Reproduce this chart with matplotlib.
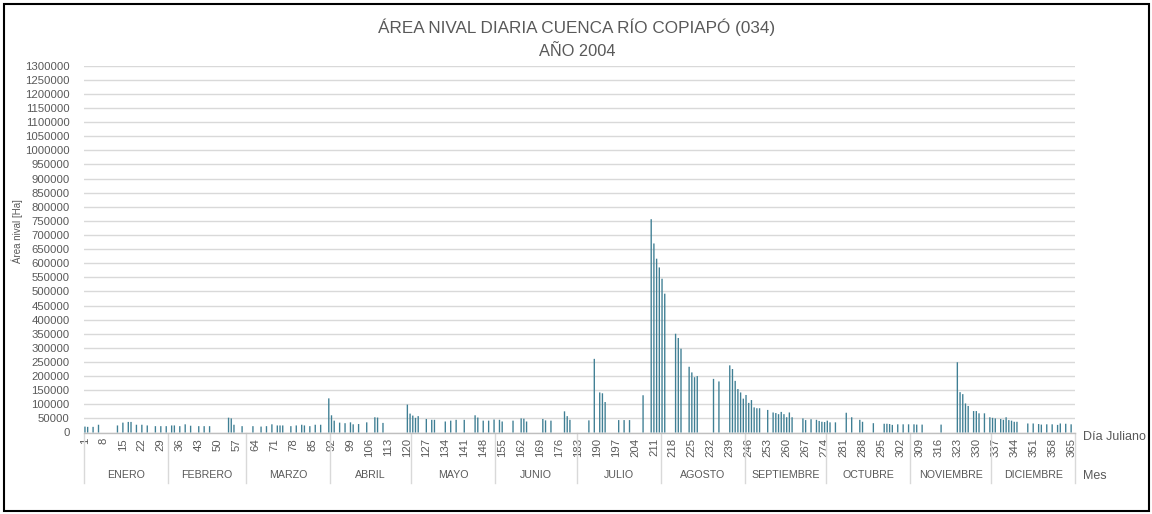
import matplotlib
matplotlib.use("Agg")
import matplotlib.pyplot as plt
from matplotlib.patches import Rectangle
import numpy as np

# Daily snow-covered area, Copiapó basin, 2004 (days with no record are left empty)
obs_days = [
    1, 2, 4, 6, 13, 15, 17, 18, 20, 22, 24, 27, 29, 31, 33, 34, 36, 38, 40, 43, 45, 47,
    54, 55, 56, 59, 63, 66, 68, 70, 72, 73, 74, 77, 79, 81, 82, 84, 86, 88,
    91, 92, 93, 95, 97, 99, 100, 102, 105, 108, 109, 111,
    120, 121, 122, 123, 124, 127, 129, 130, 134, 136, 138, 141, 145, 146, 148, 150, 152,
    154, 155, 159, 162, 163, 164, 170, 171, 173, 178, 179, 180,
    187, 189, 191, 192, 193, 198, 200, 202, 207, 210, 211, 212, 213,
    214, 215, 219, 220, 221, 224, 225, 226, 227, 233, 235, 239, 240, 241, 242, 243, 244,
    245, 246, 247, 248, 249, 250, 253, 255, 256, 257, 258, 259, 260, 261, 262, 266, 267,
    269, 271, 272, 273, 274,
    275, 276, 278, 282, 284, 287, 288, 292, 296, 297, 298, 299, 301, 303, 305,
    307, 308, 310, 317, 323, 324, 325, 326, 327, 329, 330, 331, 333, 335,
    336, 337, 339, 340, 341, 342, 343, 344, 345, 349, 351, 353, 354, 356, 358, 360, 361,
    363, 365,
]
obs_area = [
    21000, 20000, 20000, 27500, 25000, 35000, 37500, 37500, 27500, 27500, 25000, 22500,
    22500, 22500, 25000, 25000, 22500, 29000, 24000, 22500, 22500, 22500,
    52500, 50000, 27500, 22500, 22500, 21000, 22500, 29000, 25000, 25000, 25000, 22500,
    25000, 27500, 25000, 22500, 27500, 27500,
    121000, 61000, 42000, 35000, 33000, 36000, 29000, 30000, 36000, 54000, 53000, 34000,
    99000, 67000, 60000, 52000, 58000, 48000, 45000, 45000, 39000, 42000, 45000, 45000,
    61000, 53000, 42000, 42000, 46000,
    45000, 39000, 42000, 50000, 49000, 39000, 48000, 43000, 42000, 75000, 58000, 45000,
    43000, 261000, 142000, 139000, 108000, 44000, 44000, 44000, 132000, 756000, 670000,
    616000, 585000,
    545000, 492000, 350000, 335000, 297000, 233000, 213000, 196000, 200000, 190000,
    181000, 238000, 225000, 183000, 154000, 142000, 120000,
    133000, 105000, 115000, 89000, 86000, 86000, 80000, 71000, 69000, 65000, 73000,
    65000, 54000, 71000, 54000, 50000, 44000,
    47000, 45000, 41000, 38000, 37000,
    42000, 36000, 36000, 70000, 54000, 45000, 38000, 33000, 31000, 31000, 30000, 27000,
    29000, 29000, 29000,
    29000, 28000, 28000, 28000, 249000, 143000, 136000, 103000, 94000, 76000, 76000,
    68000, 68000, 54000,
    52000, 50000, 48000, 45000, 54000, 44000, 42000, 38000, 38000, 32000, 32000, 30000,
    28000, 29000, 29000, 27000, 32000,
    31000, 29000,
]

months = ["ENERO", "FEBRERO", "MARZO", "ABRIL", "MAYO", "JUNIO", "JULIO",
          "AGOSTO", "SEPTIEMBRE", "OCTUBRE", "NOVIEMBRE", "DICIEMBRE"]
month_days = [31, 29, 31, 30, 31, 30, 31, 31, 30, 31, 30, 31]

n_days = sum(month_days)
day_axis = np.arange(1, n_days + 1)
area = np.zeros(n_days)
area[np.array(obs_days) - 1] = obs_area

plt.rcParams["font.family"] = ["Liberation Sans", "DejaVu Sans"]

W, H = 1152, 514
fig = plt.figure(figsize=(W / 100, H / 100), dpi=100)

# Plot area in pixel coordinates
x0, x1 = 83.6, 1075.2
y_top, y_base = 65.7, 432.5
ax = fig.add_axes([x0 / W, 1 - y_base / H, (x1 - x0) / W, (y_base - y_top) / H])

text_col = "#595959"
grid_col = "#D9D9D9"
bar_col = "#3F7F94"

ax.bar(day_axis, area, width=0.5, color=bar_col, zorder=3, snap=False,
       linewidth=0)

ax.set_xlim(0.5, n_days + 0.5)
ax.set_ylim(0, 1300000)
ax.set_yticks(np.arange(0, 1300001, 50000))
ax.yaxis.set_major_formatter(matplotlib.ticker.FuncFormatter(lambda v, p: f"{int(v)}"))
ax.grid(axis="y", color=grid_col, linewidth=1.0, zorder=0)
ax.set_axisbelow(True)
for s in ["top", "right", "left"]:
    ax.spines[s].set_visible(False)
ax.spines["bottom"].set_color("#BFBFBF")
ax.spines["bottom"].set_linewidth(1.0)
ax.tick_params(axis="y", length=0, pad=10, labelsize=8.2, labelcolor=text_col)

tick_days = np.arange(1, n_days + 1, 7)
ax.set_xticks(tick_days)
ax.set_xticklabels([str(d) for d in tick_days], rotation=90, fontsize=8.2, color=text_col)
ax.tick_params(axis="x", length=0, pad=4)

# Month grouping below the day labels
trans = matplotlib.transforms.blended_transform_factory(ax.transData, ax.transAxes)
depth = (483 - y_base) / (y_base - y_top)
bounds = np.concatenate([[0], np.cumsum(month_days)]) + 0.5
for b in bounds:
    ax.plot([b, b], [0, -depth], transform=trans, color=grid_col, linewidth=1.0,
            clip_on=False)
label_y = -(475 - y_base) / (y_base - y_top)
for name, a, b in zip(months, bounds[:-1], bounds[1:]):
    ax.text((a + b) / 2, label_y, name, transform=trans, ha="center", va="center",
            fontsize=7.7, color=text_col)

fig.text(17 / W, 1 - 231 / H, "Área nival [Ha]", rotation=90, ha="center",
         va="center", fontsize=7.0, color=text_col)

fig.text(577 / W, 1 - 27 / H, "ÁREA NIVAL DIARIA CUENCA RÍO COPIAPÓ (034)",
         ha="center", va="center", fontsize=12.3, color=text_col)
fig.text(577 / W, 1 - 51 / H, "AÑO 2004", ha="center", va="center",
         fontsize=11.8, color=text_col)
fig.text(1083 / W, 1 - 437 / H, "Día Juliano", ha="left", va="center",
         fontsize=9, color=text_col)
fig.text(1083 / W, 1 - 476 / H, "Mes", ha="left", va="center",
         fontsize=9, color=text_col)

# Outer frame
fig.patches.append(Rectangle((3.5 / W, 3.5 / H), (W - 7) / W, (H - 7) / H,
                             transform=fig.transFigure, fill=False,
                             edgecolor="black", linewidth=1.5))

fig.savefig("out.png", dpi=100)
